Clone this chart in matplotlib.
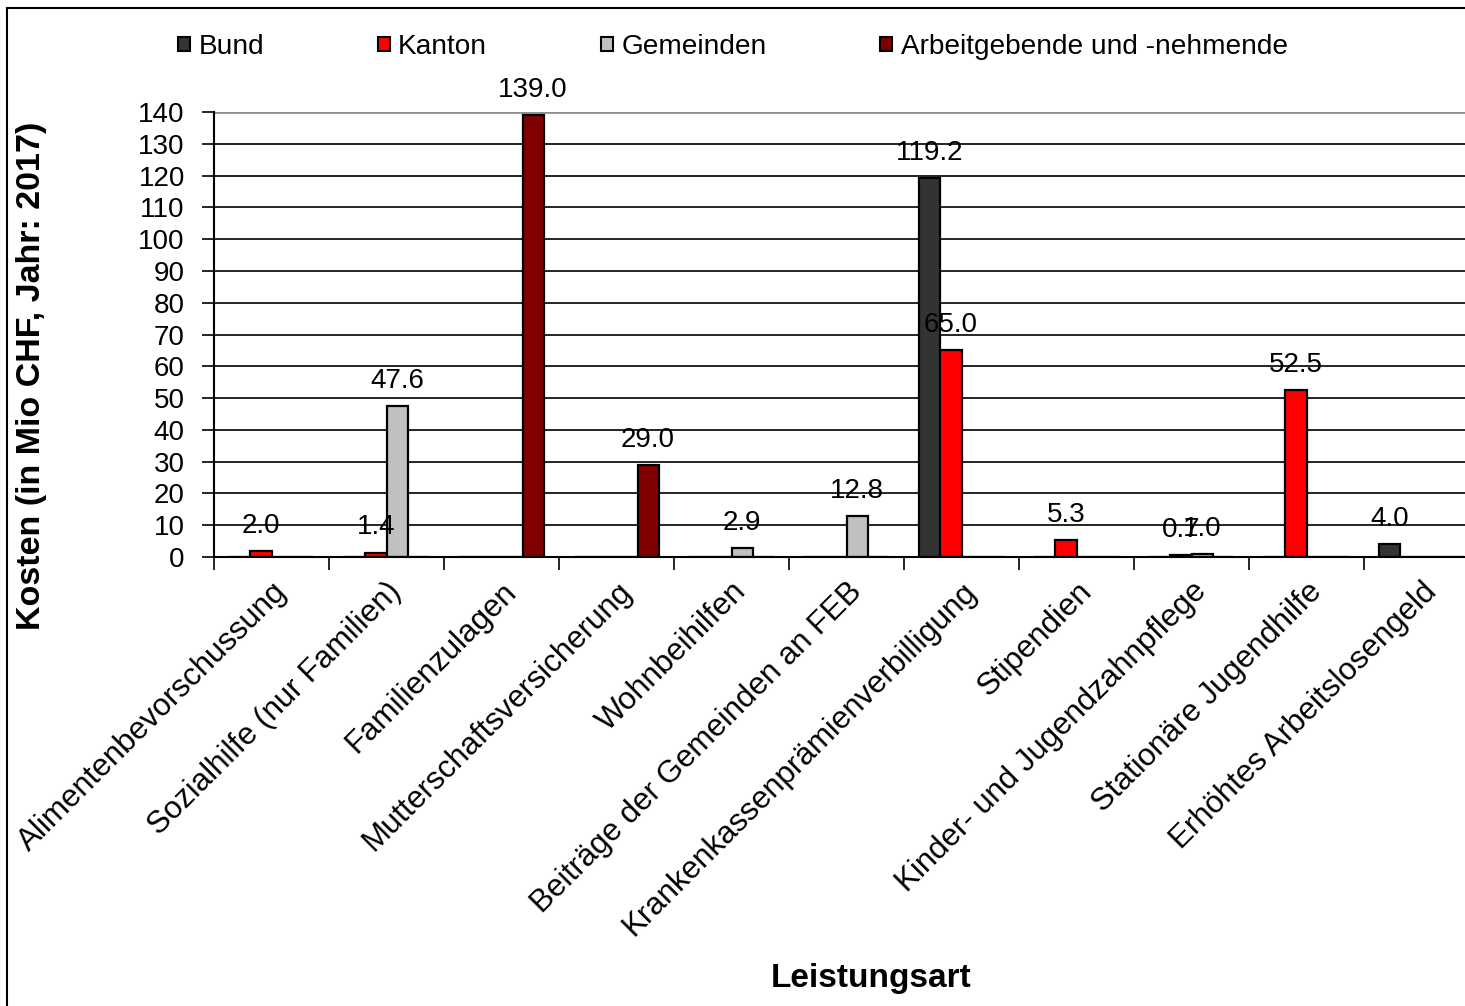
import numpy as np
import matplotlib.pyplot as plt
from matplotlib.patches import Patch
from matplotlib.lines import Line2D

plt.rcParams['font.family'] = ['Liberation Sans', 'DejaVu Sans']

# data (Mio CHF, 2017)
categories = ['Alimentenbevorschussung', 'Sozialhilfe (nur Familien)', 'Familienzulagen',
              'Mutterschaftsversicherung', 'Wohnbeihilfen', 'Beiträge der Gemeinden an FEB',
              'Krankenkassenprämienverbilligung', 'Stipendien', 'Kinder- und Jugendzahnpflege',
              'Stationäre Jugendhilfe', 'Erhöhtes Arbeitslosengeld']
bund = [0, 0, 0, 0, 0, 0, 119.2, 0, 0, 0, 4.0]
kanton = [2.0, 1.4, 0, 0, 0, 0, 65.0, 5.3, 0.7, 52.5, 0]
gemeinden = [0, 47.6, 0, 0, 2.9, 12.8, 0, 0, 1.0, 0, 0]
arbeit = [0, 0, 139.0, 29.0, 0, 0, 0, 0, 0, 0, 0]

series = [('Bund', bund, '#333333'),
          ('Kanton', kanton, '#ff0000'),
          ('Gemeinden', gemeinden, '#c0c0c0'),
          ('Arbeitgebende und -nehmende', arbeit, '#800000')]

W, H = 1465, 1006
fig = plt.figure(figsize=(W / 100, H / 100), dpi=100)
ax = fig.add_axes([214 / W, (H - 557) / H, 1265 / W, 445 / H])

x = np.arange(len(categories))
w = 0.183
for i, (name, vals, col) in enumerate(series):
    xs = x + (i - 1.5) * w
    ax.bar(xs, vals, width=w, color=col, edgecolor='black', linewidth=1.6, zorder=3)
    for xi, v in zip(xs, vals):
        if v > 0:
            ax.annotate(f'{v:.1f}', xy=(xi, v), xytext=(0, 13), textcoords='offset points',
                        ha='center', va='baseline', fontsize=20, zorder=4)

ax.set_xlim(-0.5, len(categories) - 0.5)
ax.set_ylim(0, 140)
ax.set_yticks(range(0, 141, 10))
ax.tick_params(axis='y', labelsize=20, length=9, width=1.2, pad=12)
ax.set_xticks(x)
ax.set_xticklabels(categories, rotation=45, ha='right', rotation_mode='anchor', fontsize=22.5)
ax.tick_params(axis='x', length=0, pad=14)
ax.set_xticks(np.arange(-0.5, len(categories), 1), minor=True)
ax.tick_params(axis='x', which='minor', length=9, width=1.2)

ax.grid(axis='y', color='black', linewidth=1.2, zorder=0)
ax.get_ygridlines()[-1].set_color('#909090')
ax.get_ygridlines()[-1].set_linewidth(2)
for s in ['top', 'right']:
    ax.spines[s].set_visible(False)
ax.spines['left'].set_linewidth(1.5)
ax.spines['bottom'].set_linewidth(1.5)
ax.spines['bottom'].set_zorder(5)

fig.text(32 / W, 1 - 376 / H, 'Kosten (in Mio CHF, Jahr: 2017)', rotation=90,
         ha='center', va='center', fontsize=24.5, fontweight='bold')
fig.text(871 / W, 1 - 979 / H, 'Leistungsart', ha='center', va='center',
         fontsize=24, fontweight='bold')

handles = [Patch(facecolor=c, edgecolor='black', linewidth=1.5) for _, _, c in series]
fig.legend(handles, [n for n, _, _ in series], loc='center left', ncol=4,
           bbox_to_anchor=(178 / W, 1 - 47 / H), frameon=False, fontsize=20.2,
           handlelength=0.43, handleheight=0.43, handletextpad=0.3,
           columnspacing=4.05, borderpad=0, borderaxespad=0)

# outer chart frame (left and top edges visible)
fig.add_artist(Line2D([7 / W, 7 / W], [0, 1 - 8 / H], color='black', lw=1.5))
fig.add_artist(Line2D([7 / W, 1], [1 - 8 / H, 1 - 8 / H], color='black', lw=1.5))

fig.savefig('out.png', dpi=100)
